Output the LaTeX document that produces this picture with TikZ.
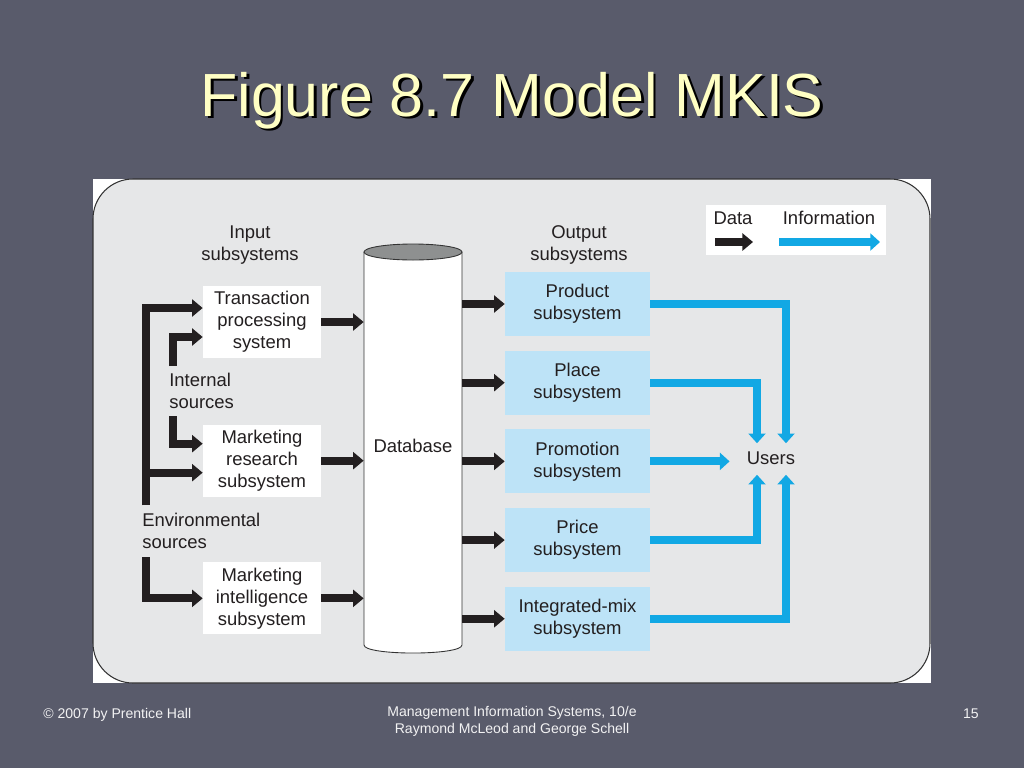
\documentclass[tikz,border=0pt]{standalone}
\usepackage{fontspec}
\setmainfont{Liberation Sans}
\usetikzlibrary{arrows.meta,positioning}
\definecolor{slidebg}{HTML}{595B6B}
\definecolor{panelgray}{HTML}{E6E7E8}
\definecolor{infoblue}{HTML}{12A8E4}
\definecolor{boxblue}{HTML}{BDE3F7}
\definecolor{titleyellow}{HTML}{FFFFC4}
\definecolor{dbtop}{HTML}{8E9090}
\definecolor{ink}{HTML}{231F20}
\newcommand\diagfont{\fontsize{10.5}{12.5}\selectfont}
\newcommand\footfont{\fontsize{8}{9.7}\selectfont}
\tikzset{
  inbox/.style={fill=white,minimum width=2.36cm,minimum height=1.44cm,inner sep=2pt,align=center,font=\diagfont,text=ink},
  outbox/.style={fill=boxblue,minimum width=2.9cm,minimum height=1.28cm,inner sep=2pt,align=center,font=\diagfont,text=ink},
  lbl/.style={inner sep=0pt,font=\diagfont,text=ink},
  data/.style={draw=ink,line width=0.16cm,line join=miter,-{Triangle[length=6pt,width=9.6pt]}},
  info/.style={draw=infoblue,line width=0.16cm,line join=miter,-{Triangle[length=5.5pt,width=9.6pt]}},
  foot/.style={inner sep=0pt,font=\footfont,text=white!92!slidebg}
}
\begin{document}
\begin{tikzpicture}[x=0.02cm,y=-0.02cm]
\fill[slidebg](0,0)rectangle(1024,768);
\node[inner sep=0pt,anchor=base,font=\fontsize{34.7}{40}\selectfont,text=titleyellow](title)at(512,116)
  {\rlap{\hspace{1.6pt}\raisebox{-1.6pt}{\color{black}Figure 8.7 Model MKIS}}Figure 8.7 Model MKIS};
\fill[white](93,179)rectangle(931,683);
\draw[fill=panelgray,draw=black!80,line width=0.6pt,rounded corners=0.8cm](93,179)rectangle(930,683);
\node[lbl,align=center](insub)at(250,245){Input\\subsystems};
\node[lbl,align=center](outsub)at(579,245){Output\\subsystems};
\node[inbox](tps)at(262,322){Transaction\\processing\\system};
\node[inbox](mrs)[below=1.32cm of tps]{Marketing\\research\\subsystem};
\node[inbox](mis)[below=1.3cm of mrs]{Marketing\\intelligence\\subsystem};
\node[lbl,align=left,anchor=west](intsrc)at(169,391){Internal\\sources};
\node[lbl,align=left,anchor=west](envsrc)at(142,531){Environmental\\sources};
\draw[fill=white,draw=black!80,line width=0.5pt](364,252)--(364,645)..controls(364,655.7)and(462,655.7)..(462,645)--(462,252);
\draw[fill=dbtop,draw=black!80,line width=0.5pt](413,252)ellipse[x radius=49,y radius=8];
\node[lbl,minimum width=1.96cm,minimum height=7.8cm](db)at(413,446){Database};
\node[outbox](prod)at(577.5,304){Product\\subsystem};
\node[outbox](place)[below=0.28cm of prod]{Place\\subsystem};
\node[outbox](promo)[below=0.28cm of place]{Promotion\\subsystem};
\node[outbox](price)[below=0.28cm of promo]{Price\\subsystem};
\node[outbox](mix)[below=0.28cm of price]{Integrated-mix\\subsystem};
\node[lbl](users)at(771,458){Users};
\node[fill=white,minimum width=3.6cm,minimum height=1cm](legend)at(796,230){};
\node[lbl](datatxt)at(733,218){Data};
\node[lbl](infotxt)at(829,218){Information};
\coordinate(dataA)at(715,242);
\coordinate(dataB)at(753,242);
\coordinate(infoA)at(779,242);
\coordinate(infoB)at(880,242);
\coordinate(intA)at(173,366);
\coordinate(intB)at(173,416);
\coordinate(envA)at(146,505);
\coordinate(envB)at(146,557);
\draw[data](dataA)--(dataB);
\draw[info](infoA)--(infoB);
\draw[data](envA)|-([yshift=0.28cm]tps.west);
\draw[data](envA)|-([yshift=-0.24cm]mrs.west);
\draw[data](intA)|-([yshift=-0.3cm]tps.west);
\draw[data](intB)|-([yshift=0.34cm]mrs.west);
\draw[data](envB)|-(mis.west);
\foreach \n in {tps,mrs,mis}
  \draw[data](\n.east)--(\n.east-|db.west);
\foreach \n in {prod,place,promo,price,mix}
  \draw[data](db.east|-\n.west)--(\n.west);
\draw[info](prod.east)-|([xshift=0.3cm,yshift=0.16cm]users.north);
\draw[info](place.east)-|([xshift=-0.28cm,yshift=0.16cm]users.north);
\draw[info,shorten >=0.34cm](promo.east)--(promo.east-|users.west);
\draw[info](price.east)-|([xshift=-0.28cm,yshift=-0.2cm]users.south);
\draw[info](mix.east)-|([xshift=0.3cm,yshift=-0.2cm]users.south);
\node[foot,anchor=base west](copy)at(43,718){\textcopyright\ 2007 by Prentice Hall};
\node[foot,align=center,anchor=north](book)at(512,706){Management Information Systems, 10/e\\Raymond McLeod and George Schell};
\node[foot,anchor=base east](page)at(979,718){15};
\end{tikzpicture}
\end{document}
